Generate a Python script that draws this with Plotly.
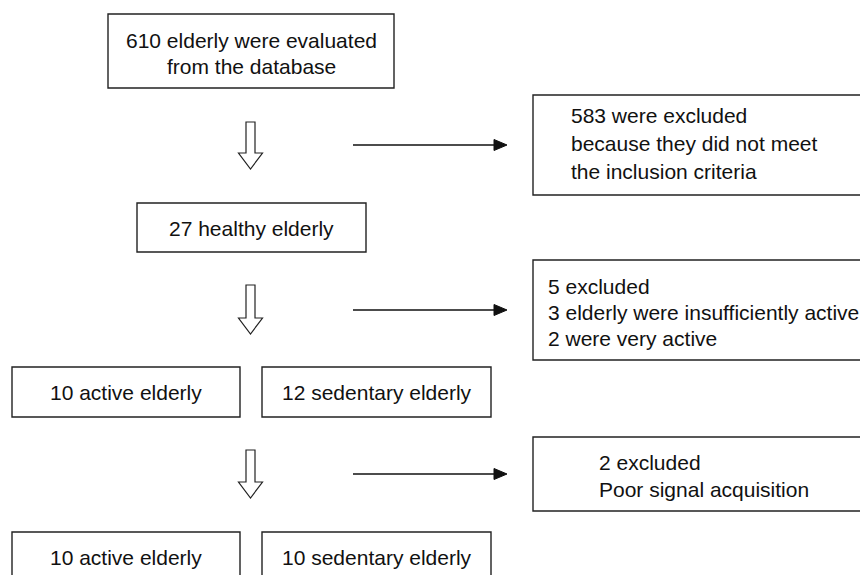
import plotly.graph_objects as go

# ---- content (text of the flowchart) ----
top_box_lines = ["610 elderly were evaluated", "from the database"]
excl1_lines = ["583 were excluded", "because they did not meet", "the inclusion criteria"]
healthy_label = "27 healthy elderly"
excl2_lines = ["5 excluded", "3 elderly were insufficiently active", "2 were very active"]
group1_labels = ["10 active elderly", "12 sedentary elderly"]
excl3_lines = ["2 excluded", "Poor signal acquisition"]
group2_labels = ["10 active elderly", "10 sedentary elderly"]

FONT = dict(family="Liberation Sans, Arial, sans-serif", size=21, color="#111111")
LINE = dict(color="#222222", width=1.4)

shapes = []
annotations = []


def box(x0, y0, x1, y1):
    shapes.append(dict(type="rect", xref="x", yref="y", x0=x0, y0=y0, x1=x1, y1=y1,
                       line=LINE, fillcolor="rgba(0,0,0,0)"))


def text(x, y, s, anchor="center"):
    annotations.append(dict(x=x, y=y, xref="x", yref="y", text=s, showarrow=False,
                            xanchor=anchor, yanchor="middle", font=FONT))


def hollow_down(cx, top, head_y, tip):
    sw, hw = 4.5, 12
    p = (f"M {cx-sw} {top} L {cx+sw} {top} L {cx+sw} {head_y} L {cx+hw} {head_y} "
         f"L {cx} {tip} L {cx-hw} {head_y} L {cx-sw} {head_y} Z")
    shapes.append(dict(type="path", xref="x", yref="y", path=p,
                       line=dict(color="#222222", width=1.2), fillcolor="white"))


def right_arrow(x0, x1, y):
    shapes.append(dict(type="line", xref="x", yref="y", x0=x0, y0=y, x1=x1 - 10, y1=y,
                       line=dict(color="#111111", width=1.4)))
    p = f"M {x1-13} {y-5.5} L {x1} {y} L {x1-13} {y+5.5} Z"
    shapes.append(dict(type="path", xref="x", yref="y", path=p,
                       line=dict(color="#111111", width=1), fillcolor="#111111"))


# top box
box(108, 14, 394, 88)
for s, y in zip(top_box_lines, [40, 66]):
    text(251, y, s)

# step 1
hollow_down(250.5, 122, 153, 169)
right_arrow(353, 507, 145)
box(533, 95, 880, 195)
for s, y in zip(excl1_lines, [115, 143, 171]):
    text(569, y, s, "left")

# healthy
box(137, 203, 366, 252)
text(251.5, 228, healthy_label)

# step 2
hollow_down(250.5, 285, 318, 334)
right_arrow(353, 507, 310)
box(533, 260, 880, 360)
for s, y in zip(excl2_lines, [286, 312, 338]):
    text(546, y, s, "left")

# groups 1
box(12, 367, 240, 417)
box(262, 367, 491, 417)
text(126, 392, group1_labels[0])
text(376.5, 392, group1_labels[1])

# step 3
hollow_down(250.5, 450, 482, 498)
right_arrow(353, 507, 474)
box(533, 437, 880, 511)
for s, y in zip(excl3_lines, [462, 489]):
    text(597, y, s, "left")

# groups 2
box(12, 532, 240, 600)
box(262, 532, 491, 600)
text(126, 557, group2_labels[0])
text(376.5, 557, group2_labels[1])

fig = go.Figure()
fig.add_trace(go.Scatter(x=[0, 860], y=[0, 575], mode="markers",
                         marker=dict(opacity=0), hoverinfo="skip", showlegend=False))
fig.update_layout(
    width=860, height=575,
    margin=dict(l=0, r=0, t=0, b=0),
    paper_bgcolor="white", plot_bgcolor="white",
    xaxis=dict(range=[0, 860], visible=False, fixedrange=True),
    yaxis=dict(range=[575, 0], visible=False, fixedrange=True),
    shapes=shapes, annotations=annotations, showlegend=False,
)
fig.write_html("out.html", config={"displayModeBar": False},
               post_script="document.body.style.margin='0';document.body.style.overflow='hidden';")
